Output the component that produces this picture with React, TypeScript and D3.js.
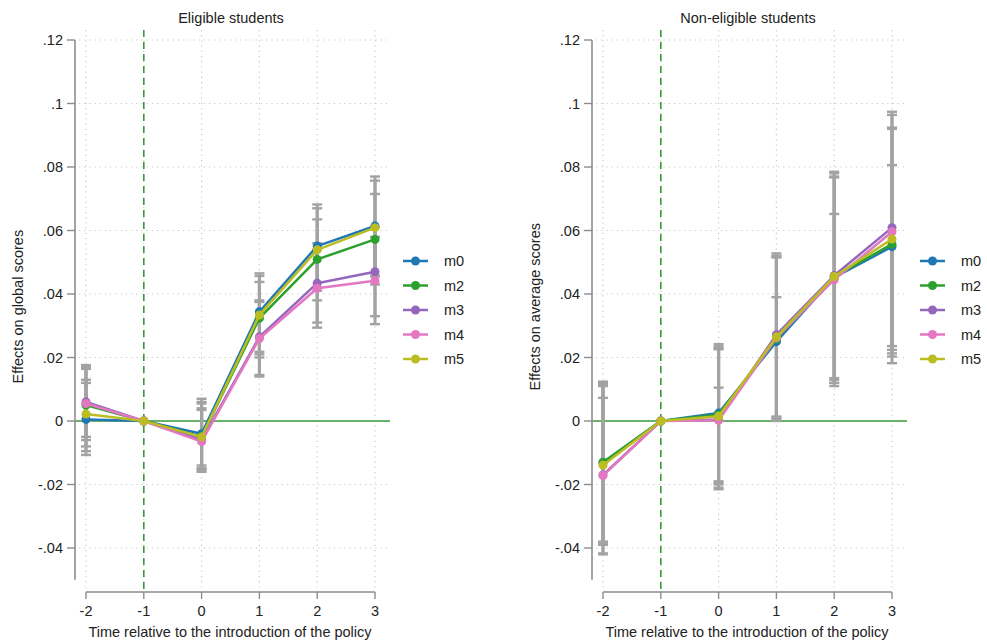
import React from "react";
import * as d3 from "d3";

const periods = [-2, -1, 0, 1, 2, 3];
const seriesNames = ["m0", "m2", "m3", "m4", "m5"];
const seriesColors = ["#1f77b4", "#2ca02c", "#9467bd", "#e377c2", "#bcbd22"];
const yTicks = [0.12, 0.1, 0.08, 0.06, 0.04, 0.02, 0, -0.02, -0.04];
const yTickLabels = [".12", ".1", ".08", ".06", ".04", ".02", "0", "-.02", "-.04"];
const xTickLabels = ["-2", "-1", "0", "1", "2", "3"];

// Eligible students: estimates, lower and upper CI per series (m0, m2, m3, m4, m5)
const eligibleEst = [
  [0.0005, 0, -0.004, 0.0344, 0.0551, 0.0614],
  [0.005, 0, -0.005, 0.0324, 0.0509, 0.0572],
  [0.006, 0, -0.006, 0.0265, 0.0434, 0.047],
  [0.0055, 0, -0.0065, 0.026, 0.0418, 0.0442],
  [0.0022, 0, -0.005, 0.0334, 0.0539, 0.0609],
];
const eligibleLo = [
  [-0.0107, null, -0.014, 0.0218, 0.042, 0.0458],
  [-0.008, null, -0.015, 0.02, 0.038, 0.043],
  [-0.005, null, -0.016, 0.0145, 0.031, 0.033],
  [-0.006, null, -0.0155, 0.014, 0.0294, 0.0305],
  [-0.0095, null, -0.0148, 0.021, 0.041, 0.0455],
];
const eligibleHi = [
  [0.012, null, 0.007, 0.0465, 0.0682, 0.077],
  [0.0164, null, 0.006, 0.0438, 0.0635, 0.0715],
  [0.0176, null, 0.004, 0.038, 0.056, 0.061],
  [0.017, null, 0.0035, 0.0375, 0.054, 0.058],
  [0.013, null, 0.0055, 0.0457, 0.067, 0.0757],
];

// Non-eligible students
const nonEligibleEst = [
  [-0.0131, 0, 0.0025, 0.025, 0.0452, 0.0549],
  [-0.013, 0, 0.002, 0.0258, 0.0455, 0.0557],
  [-0.017, 0, 0.0005, 0.0272, 0.0458, 0.0609],
  [-0.0172, 0, 0.0002, 0.0262, 0.0445, 0.0596],
  [-0.0139, 0, 0.0015, 0.0265, 0.0455, 0.0573],
];
const nonEligibleLo = [
  [-0.038, null, -0.019, 0.0014, 0.0135, 0.0236],
  [-0.0385, null, -0.0195, 0.001, 0.013, 0.0224],
  [-0.0417, null, -0.021, 0.0005, 0.012, 0.0213],
  [-0.042, null, -0.0215, 0.0, 0.011, 0.0182],
  [-0.039, null, -0.02, 0.001, 0.012, 0.0203],
];
const nonEligibleHi = [
  [0.0124, null, 0.0242, 0.0528, 0.0785, 0.0974],
  [0.012, null, 0.0235, 0.052, 0.078, 0.0964],
  [0.0113, null, 0.0226, 0.052, 0.0767, 0.0924],
  [0.0073, null, 0.0105, 0.039, 0.0652, 0.0806],
  [0.011, null, 0.023, 0.0515, 0.077, 0.092],
];

const FONT = "'Liberation Sans', Arial, sans-serif";

type PanelProps = {
  ox: number;
  title: string;
  yTitle: string;
  est: number[][];
  lo: (number | null)[][];
  hi: (number | null)[][];
};

function Panel({ ox, title, yTitle, est, lo, hi }: PanelProps) {
  const axisX = ox + 75;
  const x = d3.scaleLinear().domain([-2, 3]).range([ox + 86, ox + 375]);
  const y = d3.scaleLinear().domain([-0.05, 0.12]).range([579.75, 40]);
  const plotRight = ox + 390;
  const plotTop = 30;
  const xAxisY = 592;
  const line = d3
    .line<number>()
    .x((_, i) => x(periods[i]))
    .y((d) => y(d));
  const capW = 5;
  const legendY0 = 261;
  const legendStep = 24.5;
  const legX = ox + 403;

  return (
    <g>
      <text x={ox + 231} y={23} textAnchor="middle" fontSize={14.5} fontFamily={FONT} fill="#222">
        {title}
      </text>
      {yTicks.map((t) => (
        <line key={"gy" + t} x1={axisX + 4} x2={plotRight} y1={y(t)} y2={y(t)} stroke="#c8c8c8" strokeWidth={1.2} strokeDasharray="1.2,4" />
      ))}
      {periods.map((p) => (
        <line key={"gx" + p} x1={x(p)} x2={x(p)} y1={plotTop} y2={xAxisY - 2} stroke="#c8c8c8" strokeWidth={1.2} strokeDasharray="1.2,4" />
      ))}
      <line x1={axisX} x2={plotRight} y1={y(0)} y2={y(0)} stroke="#3a9a3a" strokeWidth={1.6} />
      <line x1={x(-1)} x2={x(-1)} y1={plotTop} y2={xAxisY} stroke="#3a9a3a" strokeWidth={1.6} strokeDasharray="7,5" />
      <line x1={axisX} x2={axisX} y1={y(0.12)} y2={y(-0.05)} stroke="#8c8c8c" strokeWidth={1.6} />
      {yTicks.map((t, i) => (
        <g key={"yt" + t}>
          <line x1={axisX - 8} x2={axisX} y1={y(t)} y2={y(t)} stroke="#8c8c8c" strokeWidth={1.4} />
          <text x={axisX - 12} y={y(t)} dy="0.35em" textAnchor="end" fontSize={14.5} fontFamily={FONT} fill="#222">
            {yTickLabels[i]}
          </text>
        </g>
      ))}
      <text
        transform={`translate(${ox + 23},${y(0.036)}) rotate(-90)`}
        textAnchor="middle"
        fontSize={14.5}
        fontFamily={FONT}
        fill="#222"
      >
        {yTitle}
      </text>
      <line x1={x(-2)} x2={x(3)} y1={xAxisY} y2={xAxisY} stroke="#8c8c8c" strokeWidth={1.6} />
      {periods.map((p, i) => (
        <g key={"xt" + p}>
          <line x1={x(p)} x2={x(p)} y1={xAxisY} y2={xAxisY + 7} stroke="#8c8c8c" strokeWidth={1.4} />
          <text x={x(p)} y={xAxisY + 24} textAnchor="middle" fontSize={14.5} fontFamily={FONT} fill="#222">
            {xTickLabels[i]}
          </text>
        </g>
      ))}
      <text x={ox + 230} y={637} textAnchor="middle" fontSize={14.5} fontFamily={FONT} fill="#222">
        Time relative to the introduction of the policy
      </text>
      {seriesNames.map((s, si) =>
        periods.map((p, i) => {
          const l = lo[si][i];
          const h = hi[si][i];
          if (l === null || h === null) return null;
          return (
            <g key={"ci" + s + p} stroke="#a3a3a3">
              <line x1={x(p)} x2={x(p)} y1={y(l)} y2={y(h)} strokeWidth={3} />
              <line x1={x(p) - capW} x2={x(p) + capW} y1={y(l)} y2={y(l)} strokeWidth={2.4} />
              <line x1={x(p) - capW} x2={x(p) + capW} y1={y(h)} y2={y(h)} strokeWidth={2.4} />
            </g>
          );
        })
      )}
      {seriesNames.map((s, si) => (
        <g key={"ser" + s}>
          <path d={line(est[si]) || ""} fill="none" stroke={seriesColors[si]} strokeWidth={2.5} strokeLinejoin="round" />
          {est[si].map((v, i) => (
            <circle key={i} cx={x(periods[i])} cy={y(v)} r={4.5} fill={seriesColors[si]} />
          ))}
        </g>
      ))}
      {seriesNames.map((s, si) => (
        <g key={"lg" + s}>
          <line x1={legX} x2={legX + 25} y1={legendY0 + si * legendStep} y2={legendY0 + si * legendStep} stroke={seriesColors[si]} strokeWidth={2.5} />
          <circle cx={legX + 12.5} cy={legendY0 + si * legendStep} r={4.5} fill={seriesColors[si]} />
          <text x={legX + 41} y={legendY0 + si * legendStep} dy="0.35em" fontSize={14.5} fontFamily={FONT} fill="#222">
            {s}
          </text>
        </g>
      ))}
    </g>
  );
}

export default function App() {
  return (
    <svg width={987} height={642} style={{ position: "absolute", left: 0, top: 0, background: "#fff" }}>
      <rect width={987} height={642} fill="#fff" />
      <Panel ox={0} title="Eligible students" yTitle="Effects on global scores" est={eligibleEst} lo={eligibleLo} hi={eligibleHi} />
      <Panel ox={517} title="Non-eligible students" yTitle="Effects on average scores" est={nonEligibleEst} lo={nonEligibleLo} hi={nonEligibleHi} />
    </svg>
  );
}
